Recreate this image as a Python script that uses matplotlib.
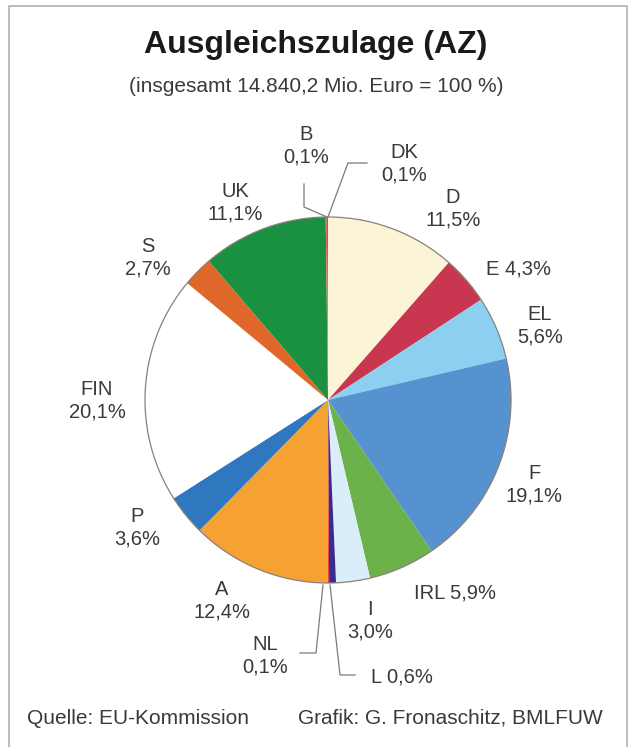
import numpy as np
import matplotlib.pyplot as plt
from matplotlib.patches import Circle

plt.rcParams['font.family'] = ['Liberation Sans', 'DejaVu Sans']

# Data (clockwise from 12 o'clock)
countries = ['D', 'E', 'EL', 'F', 'IRL', 'I', 'L', 'NL', 'A', 'P', 'FIN', 'S', 'UK', 'B', 'DK']
shares = [11.5, 4.3, 5.6, 19.1, 5.9, 3.0, 0.6, 0.1, 12.4, 3.6, 20.1, 2.7, 11.1, 0.1, 0.1]
colors = ['#fbf4d6', '#c9364f', '#8ccff0', '#5592cf', '#6cb24a', '#d9eef8', '#3a2c8c',
          '#e8403a', '#f5a233', '#2f77be', '#ffffff', '#e0672a', '#1a9140', '#e06070', '#d05050']

W, H = 632, 747
txt = '#3a3a3a'

fig = plt.figure(figsize=(W / 100, H / 100), dpi=100)
ax = fig.add_axes([0, 0, 1, 1])
ax.set_xlim(0, W)
ax.set_ylim(0, H)
ax.set_aspect('equal')
ax.axis('off')


def Y(y):
    # pixel row (from top) -> data y
    return H - y


cx, cy, r = 328, Y(400), 183
ax.pie(shares, colors=colors, startangle=90, counterclock=False,
       center=(cx, cy), radius=r, wedgeprops=dict(linewidth=0))
ax.add_patch(Circle((cx, cy), r, fill=False, ec='#8a7f7f', lw=0.9))
ax.set_xlim(0, W)
ax.set_ylim(0, H)

# frame
ax.plot([9, 9, 627, 627], [Y(750), Y(6), Y(6), Y(750)], color='#b0b0b0', lw=1.2)

# titles
ax.text(316, Y(45), 'Ausgleichszulage (AZ)', ha='center', va='center',
        fontsize=23, fontweight='bold', color='#1a1a1a')
ax.text(316, Y(87), '(insgesamt 14.840,2 Mio. Euro = 100 %)', ha='center', va='center',
        fontsize=15, color=txt)

# labels
labels = {
    'B': (306, 146, 'B\n0,1%'),
    'DK': (404, 164, 'DK\n0,1%'),
    'D': (453, 209, 'D\n11,5%'),
    'E': (518, 269, 'E 4,3%'),
    'EL': (540, 326, 'EL\n5,6%'),
    'F': (534, 485, 'F\n19,1%'),
    'IRL': (455, 593, 'IRL 5,9%'),
    'I': (370, 621, 'I\n3,0%'),
    'L': (402, 677, 'L 0,6%'),
    'NL': (265, 656, 'NL\n0,1%'),
    'A': (222, 601, 'A\n12,4%'),
    'P': (137, 528, 'P\n3,6%'),
    'FIN': (97, 401, 'FIN\n20,1%'),
    'S': (148, 258, 'S\n2,7%'),
    'UK': (235, 203, 'UK\n11,1%'),
}
for c in countries:
    x, y, s = labels[c]
    ax.text(x, Y(y), s, ha='center', va='center', fontsize=14.5, color=txt,
            linespacing=1.25)

# leader lines
lc = '#7a7a7a'
ax.plot([304, 304, 327], [Y(184), Y(207), Y(217)], color=lc, lw=0.9)
ax.plot([367, 348, 328], [Y(163), Y(163), Y(217)], color=lc, lw=0.9)
ax.plot([300, 316, 323], [Y(653), Y(653), Y(585)], color=lc, lw=0.9)
ax.plot([355, 340, 330], [Y(675), Y(675), Y(585)], color=lc, lw=0.9)

# footer
ax.text(27, Y(718), 'Quelle: EU-Kommission', ha='left', va='center', fontsize=15, color=txt)
ax.text(603, Y(718), 'Grafik: G. Fronaschitz, BMLFUW', ha='right', va='center',
        fontsize=15, color=txt)

fig.savefig('out.png', dpi=100)
